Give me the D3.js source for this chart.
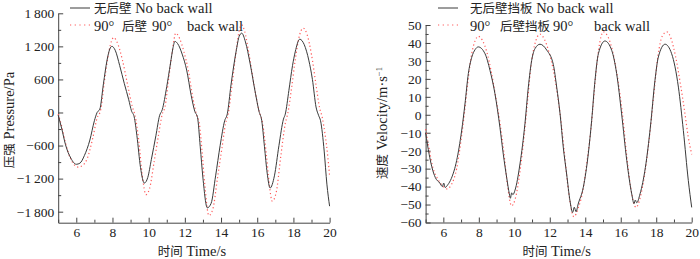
<!DOCTYPE html>
<html>
<head>
<meta charset="utf-8">
<script src="https://cdn.jsdelivr.net/npm/d3@7"></script>
<style>
  body { margin: 0; background: #fff; }
  svg text { font-family: "Liberation Serif", "Times New Roman", serif; fill: #222; }
  .tick text { font-size: 13.5px; font-family: "Liberation Serif", serif; }
  .axis-label, .legend text { font-size: 14.5px; }
  tspan.cjk { font-family: "Noto Sans CJK SC", sans-serif; font-size: 12.5px; }
  tspan.lat { font-family: "Liberation Serif", serif; }
</style>
</head>
<body>
<svg width="700" height="259"></svg>
<script>
// 压强 (time, value) pairs
const pressureNoWall = [
  [5.0, -50], [5.2, -300], [5.4, -580], [5.7, -830], [6.0, -940], [6.2, -920],
  [6.45, -780], [6.75, -500], [7.0, -150], [7.15, 0], [7.3, 60], [7.5, 520],
  [7.7, 950], [7.85, 1150], [7.97, 1200], [8.15, 1130], [8.4, 850], [8.65, 530],
  [8.9, 230], [9.05, 30], [9.2, -80], [9.35, -420], [9.55, -1000], [9.76, -1280],
  [9.95, -1180], [10.15, -850], [10.4, -420], [10.6, -60], [10.75, 50], [11.0, 470],
  [11.2, 880], [11.35, 1180], [11.45, 1290], [11.6, 1250], [11.85, 1060], [12.1, 770],
  [12.35, 310], [12.55, 20], [12.7, -90], [12.85, -620], [13.0, -1190], [13.24, -1730],
  [13.45, -1650], [13.7, -1150], [13.95, -600], [14.2, -150], [14.35, -20], [14.55, 500],
  [14.85, 1140], [15.0, 1380], [15.14, 1440], [15.35, 1280], [15.6, 900], [15.9, 350],
  [16.1, 20], [16.25, -150], [16.4, -620], [16.55, -1100], [16.71, -1370], [16.95, -1150],
  [17.2, -600], [17.45, -120], [17.55, -30], [17.75, 400], [17.95, 850], [18.1, 1100],
  [18.35, 1330], [18.6, 1230], [18.85, 950], [19.05, 600], [19.25, 100], [19.4, -60],
  [19.5, -150], [19.7, -700], [19.85, -1300], [20.0, -1700]
];
const pressureWall90 = [
  [5.0, -30], [5.2, -260], [5.4, -550], [5.7, -850], [6.1, -990], [6.35, -960],
  [6.6, -840], [6.9, -480], [7.15, -100], [7.35, 50], [7.55, 560], [7.8, 1100],
  [7.95, 1300], [8.06, 1360], [8.25, 1280], [8.55, 950], [8.85, 480], [9.1, 100],
  [9.25, -60], [9.45, -500], [9.65, -1150], [9.85, -1490], [10.05, -1380], [10.3, -900],
  [10.55, -400], [10.75, -30], [10.9, 100], [11.1, 600], [11.3, 1100], [11.5, 1440],
  [11.7, 1350], [11.95, 1100], [12.2, 750], [12.45, 250], [12.65, -50], [12.8, -200],
  [12.95, -700], [13.1, -1300], [13.33, -1870], [13.55, -1750], [13.8, -1200], [14.05, -650],
  [14.25, -200], [14.4, -20], [14.6, 480], [14.85, 1150], [15.0, 1480], [15.14, 1590],
  [15.3, 1480], [15.55, 1050], [15.85, 450], [16.1, 30], [16.3, -200], [16.5, -750],
  [16.65, -1250], [16.83, -1610], [17.05, -1450], [17.3, -800], [17.55, -200], [17.7, 0],
  [17.9, 450], [18.1, 950], [18.3, 1350], [18.54, 1530], [18.75, 1420], [19.0, 1050],
  [19.25, 500], [19.45, 80], [19.6, -100], [19.75, -400], [19.9, -800], [20.0, -1150]
];

// 速度 (time, value) pairs
const velocityNoWall = [
  [5.0, -10], [5.2, -22], [5.35, -29], [5.55, -35], [5.8, -38], [5.95, -40],
  [6.02, -38], [6.1, -40.5], [6.25, -39], [6.45, -35.5], [6.75, -25.5], [7.03, -9],
  [7.22, 6], [7.41, 23], [7.6, 32], [7.79, 36.3], [7.97, 37.8], [8.35, 34],
  [8.63, 24.7], [8.91, 11.7], [9.19, -7], [9.38, -22], [9.57, -35], [9.72, -44],
  [9.78, -46.5], [9.85, -43.5], [9.92, -44.5], [10.04, -42], [10.32, -27.4], [10.6, -5],
  [10.79, 15.4], [10.98, 30.3], [11.17, 36.9], [11.45, 39.3], [11.83, 36], [12.2, 28],
  [12.39, 15.4], [12.58, 0.5], [12.76, -18], [12.95, -33], [13.14, -48], [13.29, -54.4],
  [13.38, -51.5], [13.48, -54], [13.6, -49.7], [13.89, -40.4], [14.17, -21.8], [14.36, -3.2],
  [14.55, 19.2], [14.74, 34], [15.11, 41.1], [15.49, 35.9], [15.77, 22.9], [16.05, 0.5],
  [16.34, -25.5], [16.62, -44.1], [16.75, -49.5], [16.82, -47.5], [16.9, -49], [17.09, -44],
  [17.39, -29.3], [17.67, -6.9], [17.93, 19.2], [18.12, 32.2], [18.5, 39.3], [18.87, 34],
  [19.25, 15.4], [19.53, -8.8], [19.81, -36.7], [20.0, -51.6]
];
const velocityWall90 = [
  [5.0, -8], [5.2, -19], [5.4, -29], [5.7, -36], [6.0, -40], [6.2, -41.3],
  [6.45, -39], [6.75, -30], [7.0, -14], [7.2, 2], [7.4, 20], [7.6, 34],
  [7.8, 41.5], [7.97, 43.7], [8.2, 41.5], [8.45, 35], [8.7, 24], [8.95, 10],
  [9.2, -5], [9.4, -20], [9.6, -38], [9.85, -50.7], [10.05, -47], [10.3, -33],
  [10.55, -12], [10.75, 8], [10.95, 28], [11.15, 39], [11.45, 44.9], [11.7, 42],
  [11.95, 35], [12.2, 25], [12.45, 10], [12.65, -5], [12.85, -24], [13.05, -42],
  [13.36, -56.8], [13.6, -52], [13.85, -43], [14.1, -26], [14.35, -5], [14.55, 18],
  [14.75, 36], [15.02, 46.2], [15.3, 43], [15.55, 35], [15.8, 22], [16.1, 0],
  [16.35, -24], [16.6, -43], [16.86, -51.6], [17.1, -46], [17.35, -33], [17.6, -14],
  [17.85, 10], [18.1, 33], [18.35, 44], [18.6, 46.2], [18.85, 42], [19.1, 32],
  [19.35, 18], [19.6, 2], [19.8, -12], [20.0, -22]
];

const timeTicks = [6, 8, 10, 12, 14, 16, 18, 20];
const timeMinorTicks = [5, 7, 9, 11, 13, 15, 17, 19];
const pressureTicks = [-1800, -1200, -600, 0, 600, 1200, 1800];
const pressureMinorTicks = [-1500, -900, -300, 300, 900, 1500];
const velocityTicks = [-60, -50, -40, -30, -20, -10, 0, 10, 20, 30, 40, 50];
const velocityMinorTicks = [-55, -45, -35, -25, -15, -5, 5, 15, 25, 35, 45];

const svg = d3.select('svg');

const fmt = n => d3.format(',')(n).replace(',', '\u2009');

// 中文用 CJK 字体，拉丁字母用衬线体
const mixedText = (sel, str) => {
  str.split(/([\u3400-\u9fff]+)/).filter(s => s.length).forEach(s => {
    sel.append('tspan')
      .attr('class', /[\u3400-\u9fff]/.test(s) ? 'cjk' : 'lat')
      .text(s);
  });
  return sel;
};

const drawPanel = cfg => {
  const xScale = d3.scaleLinear().domain([5, 20]).range(cfg.xRange);
  const yScale = d3.scaleLinear().domain(cfg.yDomain).range(cfg.yRange);
  const g = svg.append('g');
  const [x0, x1] = cfg.xRange;
  const yBottom = cfg.yRange[0];

  // 坐标轴，刻度向内
  g.append('g')
    .attr('transform', `translate(${x0},0)`)
    .call(d3.axisLeft(yScale).tickValues(cfg.yTicks).tickFormat(cfg.format)
      .tickSizeInner(-5).tickSizeOuter(0).tickPadding(4));
  g.append('g')
    .attr('transform', `translate(${x0},0)`)
    .call(d3.axisLeft(yScale).tickValues(cfg.yMinor).tickFormat('')
      .tickSizeInner(-3).tickSizeOuter(0))
    .select('.domain').remove();

  g.append('g')
    .attr('transform', `translate(0,${yBottom})`)
    .call(d3.axisBottom(xScale).tickValues(timeTicks)
      .tickSizeInner(-5).tickSizeOuter(0).tickPadding(5));
  g.append('g')
    .attr('transform', `translate(0,${yBottom})`)
    .call(d3.axisBottom(xScale).tickValues(timeMinorTicks).tickFormat('')
      .tickSizeInner(-3).tickSizeOuter(0))
    .select('.domain').remove();

  g.selectAll('.domain, .tick line').attr('stroke', '#444');

  const line = d3.line()
    .x(d => xScale(d[0]))
    .y(d => yScale(d[1]))
    .curve(d3.curveMonotoneX);

  g.append('path').datum(cfg.series2)
    .attr('fill', 'none')
    .attr('stroke', '#ff5a5a')
    .attr('stroke-width', 1.2)
    .attr('stroke-dasharray', '1.2,2.6')
    .attr('d', line);

  g.append('path').datum(cfg.series1)
    .attr('fill', 'none')
    .attr('stroke', '#3a3a3a')
    .attr('stroke-width', 1)
    .attr('d', line);

  // 轴标题
  mixedText(g.append('text')
    .attr('class', 'axis-label')
    .attr('x', (x0 + x1) / 2 - 2)
    .attr('y', 256)
    .attr('text-anchor', 'middle'), '时间 Time/s');

  const yl = mixedText(g.append('text')
    .attr('class', 'axis-label')
    .attr('transform', `translate(${cfg.yLabelX},${cfg.yLabelY}) rotate(-90)`)
    .attr('text-anchor', 'middle'), cfg.yLabel);
  if (cfg.yLabelSup) {
    yl.append('tspan').attr('dy', -5).attr('font-size', 8.5).text(cfg.yLabelSup);
  }

  // 图例
  const lg = g.append('g').attr('class', 'legend');
  lg.append('line')
    .attr('x1', cfg.legendX).attr('x2', cfg.legendX + 20)
    .attr('y1', cfg.legendY).attr('y2', cfg.legendY)
    .attr('stroke', '#3a3a3a');
  lg.append('line')
    .attr('x1', cfg.legendX).attr('x2', cfg.legendX + 20)
    .attr('y1', cfg.legendY + 17).attr('y2', cfg.legendY + 17)
    .attr('stroke', '#ff5a5a').attr('stroke-width', 1.2)
    .attr('stroke-dasharray', '1.2,3.5');
  mixedText(lg.append('text')
    .attr('x', cfg.legendTextX).attr('y', cfg.legendY + 5), cfg.legend1);
  cfg.legend2.forEach(([dx, s]) => {
    mixedText(lg.append('text')
      .attr('x', cfg.legendTextX + dx).attr('y', cfg.legendY + 23), s);
  });
};

drawPanel({
  xRange: [58.2, 329.6],
  yDomain: [-2000, 1800],
  yRange: [222.7, 13.3],
  yTicks: pressureTicks,
  yMinor: pressureMinorTicks,
  format: fmt,
  series1: pressureNoWall,
  series2: pressureWall90,
  yLabel: '压强 Pressure/Pa',
  yLabelX: 14,
  yLabelY: 120,
  legendX: 70,
  legendY: 8,
  legendTextX: 94,
  legend1: '无后壁 No back wall',
  legend2: [[0, '90°'], [28, '后壁'], [58, '90°'], [93, 'back wall']]
});

drawPanel({
  xRange: [425.6, 691.7],
  yDomain: [-60, 50],
  yRange: [222.5, 25],
  yTicks: velocityTicks,
  yMinor: velocityMinorTicks,
  format: d => d3.format('')(d),
  series1: velocityNoWall,
  series2: velocityWall90,
  yLabel: '速度 Velocity/m·s',
  yLabelSup: '−1',
  yLabelX: 387,
  yLabelY: 123,
  legendX: 438,
  legendY: 8,
  legendTextX: 470,
  legend1: '无后壁挡板 No back wall',
  legend2: [[0, '90°'], [30, '后壁挡板'], [83, '90°'], [124, 'back wall']]
});
</script>
</body>
</html>
